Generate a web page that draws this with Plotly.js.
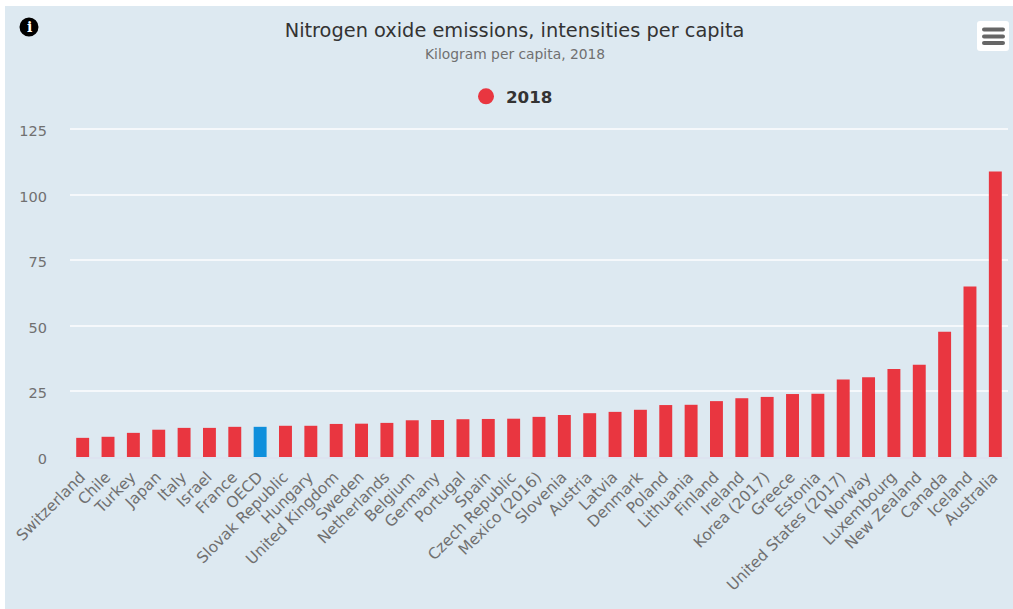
<!DOCTYPE html>
<html><head><meta charset="utf-8">
<script src="https://cdn.plot.ly/plotly-3.0.1.min.js"></script>
<style>html,body{margin:0;padding:0;background:#fff;overflow:hidden}#c{position:absolute;left:5px;top:6px;width:1008px;height:603px}</style>
</head><body><div id="c"></div>
<script>
const categories=["Switzerland","Chile","Turkey","Japan","Italy","Israel","France","OECD","Slovak Republic","Hungary","United Kingdom","Sweden","Netherlands","Belgium","Germany","Portugal","Spain","Czech Republic","Mexico (2016)","Slovenia","Austria","Latvia","Denmark","Poland","Lithuania","Finland","Ireland","Korea (2017)","Greece","Estonia","United States (2017)","Norway","Luxembourg","New Zealand","Canada","Iceland","Australia"];
const values2018=[7.3,7.7,9.2,10.4,11.1,11.1,11.5,11.5,11.9,11.9,12.6,12.7,13.0,14.0,14.1,14.4,14.5,14.6,15.3,16.0,16.7,17.2,18.0,19.8,19.9,21.3,22.4,22.9,24.0,24.1,29.5,30.4,33.5,35.2,47.7,65.0,108.8];
const highlight="OECD";
const RED="#e93640",BLUE="#0f8fdc";
const W=1008,H=603,L=65,R=5,T=122,B=152;
const fx=x=>(x-5-L)/(W-L-R), fy=y=>1-(y-6-T)/(H-T-B);
function rr(x0,y0,x1,y1,r){const X=fx,Y=fy;return `M${X(x0+r)},${Y(y0)} L${X(x1-r)},${Y(y0)} Q${X(x1)},${Y(y0)} ${X(x1)},${Y(y0+r)} L${X(x1)},${Y(y1-r)} Q${X(x1)},${Y(y1)} ${X(x1-r)},${Y(y1)} L${X(x0+r)},${Y(y1)} Q${X(x0)},${Y(y1)} ${X(x0)},${Y(y1-r)} L${X(x0)},${Y(y0+r)} Q${X(x0)},${Y(y0)} ${X(x0+r)},${Y(y0)} Z`;}
const pathShape=(p,c)=>({type:"path",xref:"paper",yref:"paper",path:p,fillcolor:c,line:{width:0},layer:"above"});
const font="'DejaVu Sans',sans-serif";
const data=[
 {type:"bar",x:categories,y:values2018,width:0.51,showlegend:false,hoverinfo:"x+y",
  marker:{color:categories.map(c=>c===highlight?BLUE:RED)}},
 {type:"scatter",mode:"markers",x:[categories[0]],y:[null],name:"2018",marker:{color:RED,size:16,symbol:"circle"},hoverinfo:"skip"}
];
const layout={
 width:W,height:H,margin:{l:L,r:R,t:T,b:B,pad:0},
 paper_bgcolor:"#dde9f1",plot_bgcolor:"rgba(0,0,0,0)",
 font:{family:font,color:"#707070"},bargap:0.49,
 title:{text:"Nitrogen oxide emissions, intensities per capita",font:{family:font,size:19.35,color:"#333333"},x:(514.5-5)/W,xanchor:"center",y:1-(30-6)/H,yanchor:"middle"},
 xaxis:{type:"category",categories:categories,tickangle:-45,tickfont:{size:15.4,color:"#707070"},showgrid:false,zeroline:false,showline:true,linecolor:"#dde3f0",linewidth:2,ticks:"",automargin:false,tickmode:"array",tickvals:categories,ticktext:categories,range:[-0.5,36.5],ticklabelstandoff:3,ticklabelshift:-2},
 yaxis:{range:[0,125.4],tickvals:[0,25,50,75,100,125],ticktext:["0","25","50","75","100","125"],tickfont:{size:14.5,color:"#707070"},gridcolor:"#f5f8fb",gridwidth:1.6,zeroline:false,showline:false,ticks:"",ticklabelstandoff:22,ticklabelshift:2},
 legend:{orientation:"h",x:fx(512),xanchor:"center",y:fy(96.5),yanchor:"middle",bgcolor:"rgba(0,0,0,0)",font:{family:font,size:16.7,color:"#333333",weight:"bold"},itemclick:false,itemdoubleclick:false},
 shapes:[
  {type:"circle",xref:"paper",yref:"paper",x0:fx(19.5),x1:fx(38.5),y0:fy(36.5),y1:fy(17.5),fillcolor:"#000000",line:{width:0},layer:"above"},
  pathShape(rr(977,21,1009,51,3),"#ffffff"),
  pathShape(rr(982,27.5,1005,31.5,2),"#666666"),
  pathShape(rr(982,34.5,1005,38.5,2),"#666666"),
  pathShape(rr(982,41,1005,45,2),"#666666")
 ],
 annotations:[
  {text:"Kilogram per capita, 2018",xref:"paper",yref:"paper",x:fx(514.5),y:fy(54),xanchor:"center",yanchor:"middle",showarrow:false,font:{family:font,size:13.85,color:"#707070"}},
  {text:"<b>i</b>",xref:"paper",yref:"paper",x:fx(29),y:fy(27),xanchor:"center",yanchor:"middle",showarrow:false,font:{family:"'DejaVu Serif',serif",size:14,color:"#ffffff"}}
 ]
};
Plotly.newPlot("c",data,layout,{displayModeBar:false,responsive:false});
</script></body></html>
